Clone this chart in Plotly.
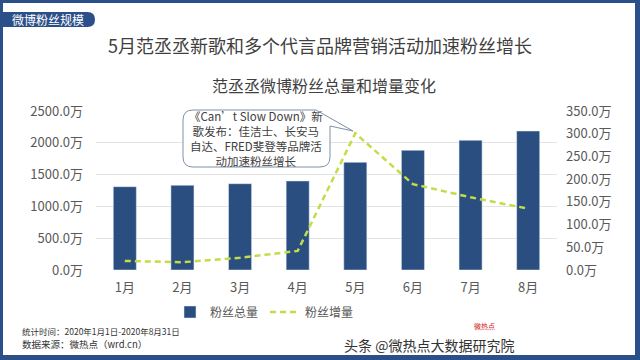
import plotly.graph_objects as go

months = ["1月", "2月", "3月", "4月", "5月", "6月", "7月", "8月"]
total_fans = [1310, 1332, 1357, 1400, 1693, 1882, 2039, 2185]   # 万
fan_growth = [20, 17, 27, 42, 301, 189, 160, 135]               # 万
left_ticks = [0, 500, 1000, 1500, 2000, 2500]
right_ticks = [0, 50, 100, 150, 200, 250, 300, 350]

W, H = 640, 360
L, R, T, B = 96, 83, 111, 90
PW, PH = W - L - R, H - T - B

def px(x):
    return (x - L) / PW

def py(y):
    return (H - B - y) / PH

FONT = "Noto Sans CJK SC"
GRAY = "#595959"
BLUE = "#2A4E80"
GREEN = "#C3DC48"
FRAME = "#2B5089"

fig = go.Figure()
fig.add_trace(go.Bar(x=months, y=total_fans, name="粉丝总量", marker_color=BLUE,
                     width=0.4, yaxis="y"))
fig.add_trace(go.Scatter(x=months, y=fan_growth, name="粉丝增量", mode="lines",
                         line=dict(color=GREEN, width=2.5, dash="6px,4px"), yaxis="y2"))

shapes = []
# white page inside dark blue border
shapes.append(dict(type="rect", xref="paper", yref="paper", layer="below",
                   x0=px(3), x1=px(635), y0=py(355), y1=py(3),
                   fillcolor="white", line=dict(width=0)))

# tag shape with rounded right end
def tag_path():
    x0, x1, y0, y1 = 3, 95, 12, 27
    r = (y1 - y0) / 2
    return (f"M {px(x0)} {py(y0)} L {px(x1 - r)} {py(y0)} "
            f"Q {px(x1)} {py(y0)} {px(x1)} {py(y0 + r)} "
            f"Q {px(x1)} {py(y1)} {px(x1 - r)} {py(y1)} "
            f"L {px(x0)} {py(y1)} Z")
shapes.append(dict(type="path", xref="paper", yref="paper", path=tag_path(),
                   fillcolor=FRAME, line=dict(width=0)))

# callout bubble
def callout_path():
    x0, x1, y0, y1, r = 183, 330, 110, 167, 10
    tipx, tipy = 353, 131
    return (f"M {px(x0 + r)} {py(y0)} L {px(x1 - 14)} {py(y0)} "
            f"L {px(tipx)} {py(tipy)} "
            f"L {px(x1)} {py(y0 + 16)} "
            f"L {px(x1)} {py(y1 - r)} Q {px(x1)} {py(y1)} {px(x1 - r)} {py(y1)} "
            f"L {px(x0 + r)} {py(y1)} Q {px(x0)} {py(y1)} {px(x0)} {py(y1 - r)} "
            f"L {px(x0)} {py(y0 + r)} Q {px(x0)} {py(y0)} {px(x0 + r)} {py(y0)} Z")
shapes.append(dict(type="path", xref="paper", yref="paper", path=callout_path(),
                   fillcolor="white", line=dict(color="#8090A8", width=1)))

annotations = [
    dict(text="微博粉丝规模", x=px(48), y=py(19.5), xref="paper", yref="paper",
         showarrow=False, font=dict(family=FONT, size=12, color="white"),
         xanchor="center", yanchor="middle"),
    dict(text="5月范丞丞新歌和多个代言品牌营销活动加速粉丝增长", x=px(320), y=py(45),
         xref="paper", yref="paper", showarrow=False,
         font=dict(family=FONT, size=18, color="#404040"), xanchor="center", yanchor="middle"),
    dict(text="范丞丞微博粉丝总量和增量变化", x=px(324), y=py(85),
         xref="paper", yref="paper", showarrow=False,
         font=dict(family=FONT, size=16, color="#404040"), xanchor="center", yanchor="middle"),
    dict(text="《Can’t Slow Down》新<br>歌发布：佳洁士、长安马<br>自达、FRED斐登等品牌活<br>动加速粉丝增长",
         x=px(256), y=py(138.5), xref="paper", yref="paper", showarrow=False,
         font=dict(family=FONT, size=11.5, color="#404040"), align="center",
         xanchor="center", yanchor="middle"),
    dict(text="统计时间：2020年1月1日-2020年8月31日", x=px(20), y=py(331),
         xref="paper", yref="paper", showarrow=False,
         font=dict(family=FONT, size=8.5, color="#333333"), xanchor="left", yanchor="middle"),
    dict(text="数据来源：微热点（wrd.cn）", x=px(20), y=py(344),
         xref="paper", yref="paper", showarrow=False,
         font=dict(family=FONT, size=9.5, color="#333333"), xanchor="left", yanchor="middle"),
    dict(text="微热点", x=px(484), y=py(326),
         xref="paper", yref="paper", showarrow=False,
         font=dict(family=FONT, size=7, color="#D02020"), xanchor="center", yanchor="middle"),
    dict(text="头条 @微热点大数据研究院", x=px(516), y=py(345),
         xref="paper", yref="paper", showarrow=False,
         font=dict(family=FONT, size=14, color="#333333"), xanchor="right", yanchor="middle"),
]

fig.update_layout(
    width=W, height=H,
    margin=dict(l=L, r=R, t=T, b=B, autoexpand=False),
    paper_bgcolor=FRAME, plot_bgcolor="rgba(0,0,0,0)",
    font=dict(family=FONT, color=GRAY, size=13),
    xaxis=dict(showline=False, showgrid=False, ticks="", tickfont=dict(size=13, color=GRAY),
               ticklabelstandoff=8),
    yaxis=dict(range=[0, 2500], tickvals=left_ticks, ticktext=[f"{v:.1f}万" for v in left_ticks],
               showgrid=True, gridcolor="#E3E3E3", gridwidth=1, zeroline=False,
               tickfont=dict(size=13, color=GRAY), ticklabelstandoff=12),
    yaxis2=dict(range=[0, 350], tickvals=right_ticks, ticktext=[f"{v:.1f}万" for v in right_ticks],
                overlaying="y", side="right", showgrid=False, zeroline=False,
                tickfont=dict(size=13, color=GRAY), ticklabelstandoff=8),
    legend=dict(orientation="h", x=px(265), y=py(312), xanchor="center", yanchor="middle",
                font=dict(size=12, color=GRAY), bgcolor="rgba(0,0,0,0)",
                itemwidth=30, entrywidth=50, tracegroupgap=0),
    shapes=shapes,
    annotations=annotations,
)

fig.write_html("out.html", config={"displayModeBar": False},
               post_script="document.body.style.margin='0';document.body.style.overflow='hidden';")
